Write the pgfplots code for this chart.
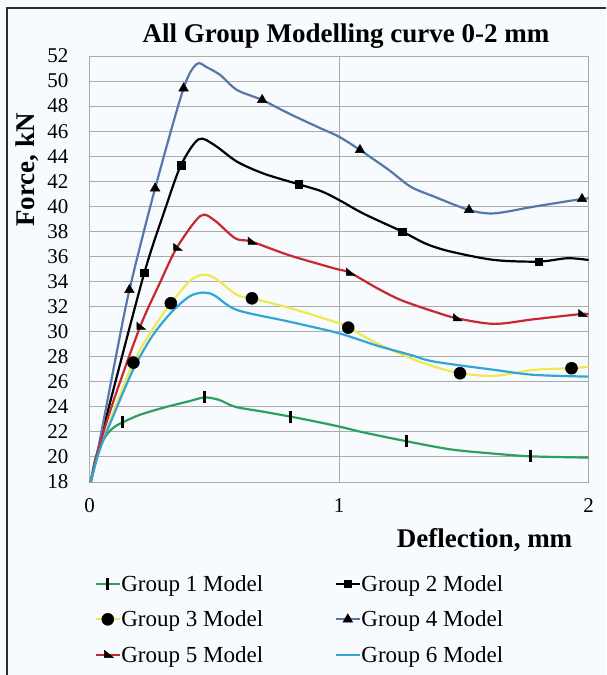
\documentclass[border=0pt]{standalone}
\usepackage{fontspec}
\setmainfont{Liberation Serif}
\usepackage{pgfplots}
\pgfplotsset{compat=1.18}

\definecolor{bgcol}{RGB}{248,251,253}
\definecolor{framecol}{RGB}{45,45,45}
\definecolor{gridcol}{RGB}{170,170,170}
\definecolor{gone}{RGB}{44,160,95}
\definecolor{gthree}{RGB}{240,232,80}
\definecolor{gfour}{RGB}{84,120,168}
\definecolor{gfive}{RGB}{200,40,50}
\definecolor{gsix}{RGB}{50,165,215}

% right-angled triangle used by Group 5
\pgfdeclareplotmark{flag}{%
  \pgfpathmoveto{\pgfpoint{-0.6\pgfplotmarksize}{0.8\pgfplotmarksize}}%
  \pgfpathlineto{\pgfpoint{1.0\pgfplotmarksize}{-0.5\pgfplotmarksize}}%
  \pgfpathlineto{\pgfpoint{-0.6\pgfplotmarksize}{-0.5\pgfplotmarksize}}%
  \pgfpathclose
  \pgfusepathqfillstroke}

\begin{document}
\begin{tikzpicture}
\path[use as bounding box, fill=bgcol] (0pt,0pt) rectangle (606pt,675pt);
\draw[line width=2.5pt, framecol] (7pt,0pt) -- (7pt,667pt) -- (606pt,667pt);

\begin{axis}[
    at={(89.5pt,193pt)}, anchor=south west,
    scale only axis, width=499pt, height=426pt,
    xmin=0, xmax=2, ymin=18, ymax=52,
    xtick={0,1,2}, ytick={18,20,...,52},
    grid=major,
    major grid style={gridcol, line width=0.9pt},
    axis line style={gridcol, line width=0.9pt},
    major tick length=0pt,
    /pgf/number format/assume math mode=true,
    ticklabel style={font=\fontsize{21}{25}\selectfont},
    yticklabel style={inner sep=0pt, xshift=-21pt},
    xticklabel style={inner sep=0pt, yshift=-16pt},
    every axis plot/.append style={line width=2.2pt, smooth},
    legend columns=2,
    legend cell align=left,
    legend image code/.code={%
        \draw[mark indices={2}] plot coordinates {(0pt,0pt) (12pt,0pt) (24pt,0pt)};},
    legend style={at={(0.010,-0.197)}, anchor=north west, draw=none, fill=none,
        inner sep=0pt, row sep=0pt,
        font=\fontsize{23}{27}\selectfont,
        nodes={inner xsep=0.5pt, inner ysep=9pt},
        /tikz/every even column/.append style={column sep=71pt}},
]

\addplot[gone, mark=|, mark size=6pt, mark indices={6,10,14,18,21},
    mark options={black, line width=3pt}] coordinates {
    (0.005,18.0) (0.02,19.6) (0.04,20.8) (0.07,21.8) (0.1,22.4)
    (0.132,22.75) (0.2,23.35) (0.3,23.95) (0.4,24.45) (0.461,24.75)
    (0.52,24.55) (0.584,24.0) (0.7,23.6) (0.805,23.22) (0.9,22.85)
    (1.0,22.43) (1.1,21.95) (1.271,21.25) (1.448,20.6) (1.6,20.3)
    (1.766,20.05) (2.0,19.95)
};
\addlegendentry{Group 1 Model}

\addplot[black, mark=square*, mark size=3.8pt, mark indices={4,6,11,15,19},
    mark options={black, line width=0.5pt}] coordinates {
    (0.005,18) (0.04,21.0) (0.1,25.7) (0.22,34.71) (0.3,39.6)
    (0.367,43.3) (0.437,45.35) (0.5,44.9) (0.591,43.57) (0.7,42.6)
    (0.839,41.76) (0.93,41.2) (1.0,40.51) (1.1,39.4) (1.254,37.98)
    (1.35,37.0) (1.448,36.39) (1.622,35.72) (1.8,35.59) (1.916,35.86)
    (2.0,35.72)
};
\addlegendentry{Group 2 Model}

\addplot[gthree, mark=*, mark size=6pt, mark indices={4,6,11,14,18,21},
    mark options={black, line width=0.5pt}] coordinates {
    (0.005,18) (0.04,20.6) (0.1,23.8) (0.176,27.53) (0.25,30.1)
    (0.326,32.27) (0.4,34.0) (0.45,34.53) (0.5,34.3) (0.591,32.93)
    (0.651,32.66) (0.8,31.9) (1.0,30.67) (1.037,30.32) (1.15,29.1)
    (1.287,27.88) (1.381,27.21) (1.485,26.68) (1.622,26.47) (1.782,26.95)
    (1.932,27.08) (2.0,27.2)
};
\addlegendentry{Group 3 Model}

\addplot[gfour, mark=triangle*, mark size=5.5pt, mark indices={4,5,6,11,15,19,22},
    mark options={black, line width=0.5pt}] coordinates {
    (0.005,18) (0.04,21.2) (0.1,27.4) (0.16,33.33) (0.263,41.44)
    (0.377,49.42) (0.43,51.36) (0.47,51.1) (0.524,50.48) (0.591,49.29)
    (0.692,48.49) (0.8,47.4) (0.926,46.23) (1.0,45.56) (1.084,44.5)
    (1.2,42.9) (1.287,41.57) (1.381,40.78) (1.521,39.71) (1.622,39.44)
    (1.782,39.98) (1.974,40.59) (2.0,40.62)
};
\addlegendentry{Group 4 Model}

\addplot[gfive, mark=flag, mark size=5.5pt, mark indices={4,6,10,13,17,20},
    mark options={black, line width=0.5pt}] coordinates {
    (0.005,18) (0.04,20.9) (0.1,24.7) (0.203,30.4) (0.28,33.8)
    (0.35,36.7) (0.444,39.23) (0.5,38.9) (0.584,37.45) (0.649,37.19)
    (0.8,36.1) (0.979,35.06) (1.043,34.71) (1.15,33.5) (1.247,32.53)
    (1.381,31.6) (1.472,31.07) (1.622,30.62) (1.782,30.99) (1.974,31.41)
    (2.0,31.35)
};
\addlegendentry{Group 5 Model}

\addplot[gsix] coordinates {
    (0.005,18) (0.04,20.5) (0.1,23.5) (0.176,27.0) (0.25,29.6)
    (0.326,31.5) (0.4,32.8) (0.455,33.12) (0.5,32.9) (0.591,31.73)
    (0.8,30.8) (1.0,29.87) (1.15,28.9) (1.287,28.14) (1.381,27.61)
    (1.622,26.95) (1.782,26.55) (2.0,26.41)
};
\addlegendentry{Group 6 Model}
\end{axis}

\node[anchor=base, font=\bfseries\fontsize{27}{32}\selectfont]
    at (346pt,632pt) {All Group Modelling curve 0-2 mm};
\node[anchor=base, rotate=90, font=\bfseries\fontsize{27}{32}\selectfont]
    at (35pt,505pt) {Force, kN};
\node[anchor=base, font=\bfseries\fontsize{27}{32}\selectfont]
    at (484.5pt,127pt) {Deflection, mm};
\end{tikzpicture}
\end{document}
